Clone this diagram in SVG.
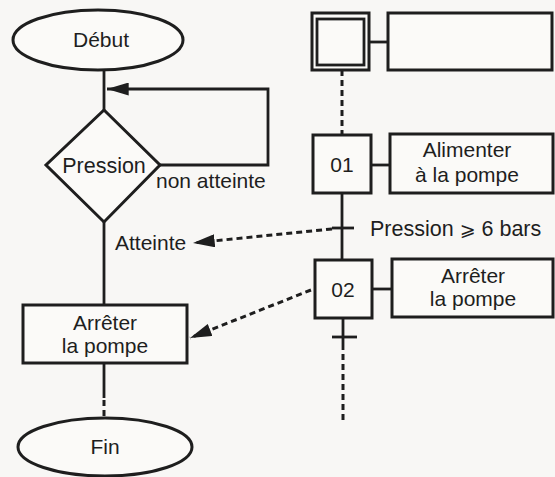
<svg xmlns="http://www.w3.org/2000/svg" width="555" height="477" viewBox="0 0 555 477">
<defs>
<style>
.s{fill:none;stroke:#1e1e1e;stroke-width:2.8}
.b{fill:#fbfaf8;stroke:#1e1e1e;stroke-width:3}
.d{fill:none;stroke:#1e1e1e;stroke-width:3;stroke-dasharray:6 4}
.t{font-family:"Liberation Sans",Arial,sans-serif;font-size:21px;fill:#1e1e1e;text-anchor:middle}
.l{font-family:"Liberation Sans",Arial,sans-serif;font-size:21px;fill:#1e1e1e}
</style>
<marker id="ah" viewBox="0 0 20 12" refX="20" refY="6" markerWidth="22" markerHeight="13" markerUnits="userSpaceOnUse" orient="auto">
<path d="M0,0 L20,6 L0,12 z" fill="#1e1e1e"/>
</marker>
</defs>
<rect width="555" height="477" fill="#f8f7f5"/>
<g id="connectors">
<path class="s" d="M104,70 V110"/>
<path class="s" d="M160,165 H268 V89 H107" marker-end="url(#ah)"/>
<path class="s" d="M104,222 V305"/>
<path class="s" d="M104,363 V398"/>
<path class="d" d="M104,400 V418" stroke-dasharray="6 5"/>
<path class="s" d="M369,42 H388"/>
<path class="d" d="M342,70 V135" stroke-dasharray="5 4"/>
<path class="s" d="M371,165 H390"/>
<path class="s" d="M342,193 V259"/>
<path class="s" d="M332,228 H354"/>
<path class="s" d="M373,289 H392"/>
<path class="s" d="M343,318 V350"/>
<path class="s" d="M332,337 H357"/>
<path class="d" d="M343,354 V422" stroke-dasharray="6 5"/>
<path class="d" d="M332,229 L193,243" marker-end="url(#ah)"/>
<path class="d" d="M311,290 L190,338" marker-end="url(#ah)"/>
</g>
<g id="debut">
<ellipse class="b" cx="98" cy="40" rx="85" ry="30"/>
<text class="t" x="101" y="47">Début</text>
</g>
<g id="pression">
<path class="b" d="M104,110 L160,165 L104,222 L46,165 z"/>
<text class="t" x="104" y="173" style="font-size:21.5px">Pression</text>
</g>
<text class="l" x="156" y="188">non atteinte</text>
<text class="l" x="115" y="250">Atteinte</text>
<g id="arreter">
<rect class="b" x="23" y="305" width="164" height="58"/>
<text class="t" x="105" y="330">Arrêter</text>
<text class="t" x="105" y="353">la pompe</text>
</g>
<g id="fin">
<ellipse class="b" cx="105" cy="447" rx="87" ry="29"/>
<text class="t" x="105" y="454">Fin</text>
</g>
<g id="step0">
<rect class="b" x="312" y="13" width="57" height="57"/>
<rect class="s" x="317" y="19" width="47" height="46"/>
</g>
<g id="action0">
<rect class="b" x="388" y="13" width="164" height="57"/>
</g>
<g id="step1">
<rect class="b" x="313" y="135" width="58" height="58"/>
<text class="t" x="342" y="172">01</text>
</g>
<g id="action1">
<rect class="b" x="390" y="134" width="163" height="59"/>
<text class="t" x="467" y="157">Alimenter</text>
<text class="t" x="467" y="182">à la pompe</text>
</g>
<text class="l" x="370" y="236" style="font-size:21.5px">Pression <tspan style="font-family:'DejaVu Sans',sans-serif;font-size:19px">⩾</tspan> 6 bars</text>
<g id="step2">
<rect class="b" x="315" y="260" width="57" height="58"/>
<text class="t" x="343" y="297">02</text>
</g>
<g id="action2">
<rect class="b" x="392" y="259" width="161" height="58"/>
<text class="t" x="473" y="283">Arrêter</text>
<text class="t" x="473" y="306">la pompe</text>
</g>
</svg>
